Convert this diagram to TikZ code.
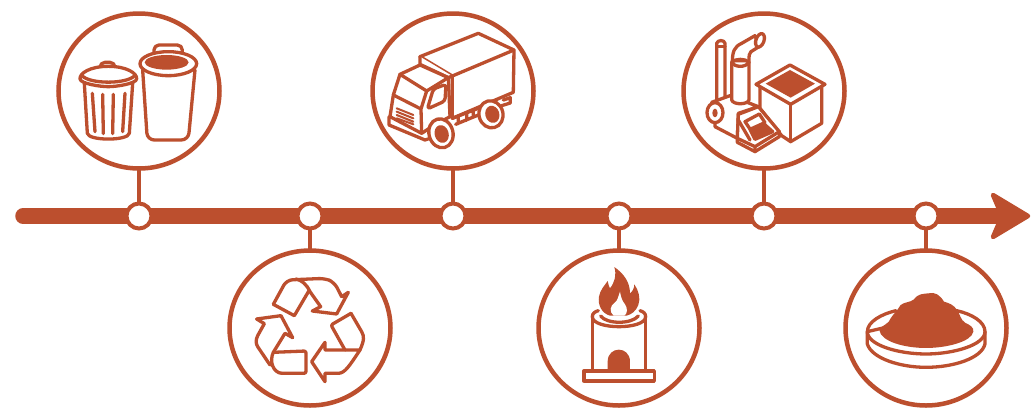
\documentclass[tikz,border=0pt]{standalone}
\usetikzlibrary{shapes.geometric}
\definecolor{rust}{HTML}{BC4F2E}
\tikzset{
  bigc/.style={ellipse,draw=rust,line width=4.5pt,fill=white,minimum width=161pt,minimum height=155pt,inner sep=0pt,outer sep=0pt},
  dotc/.style={circle,draw=rust,line width=4pt,fill=white,minimum size=25pt,inner sep=0pt,outer sep=0pt},
  stem/.style={draw=rust,line width=4pt},
  ink/.style={draw=rust,line width=3.3pt,line join=round,line cap=round},
  solid ink/.style={ink,fill=rust},
  paper/.style={ink,fill=white},
  zoomed/.style 2 args={xshift=#1pt,yshift=-#2pt,x=0.3333pt,y=-0.3333pt}
}
\begin{document}
\begin{tikzpicture}[x=1pt,y=-1pt]
\useasboundingbox (0,0) rectangle (1031,408);
\fill[white] (0,0) rectangle (1031,408);
% main line
\coordinate (start) at (23,216);
\coordinate (neck) at (1002,216);
\draw[rust,line width=15.5pt,line cap=round] (start) -- (neck);
\fill[rust,draw=rust,line width=4.5pt,line join=round] (993,195) -- (1028,216) -- (993,237) -- (1002,216) -- cycle;
% circles
\node[bigc] (c1) at (139,91) {};
\node[bigc] (c2) at (453,91) {};
\node[bigc] (c3) at (764,91) {};
\node[bigc] (c4) at (310,328) {};
\node[bigc] (c5) at (619,328) {};
\node[bigc] (c6) at (926,328) {};
\node[dotc] (d1) at (139,216) {};
\node[dotc] (d2) at (310,216) {};
\node[dotc] (d3) at (453,216) {};
\node[dotc] (d4) at (619,216) {};
\node[dotc] (d5) at (764,216) {};
\node[dotc] (d6) at (926,216) {};
\foreach \a/\b in {c1/d1,c2/d3,c3/d5,c4/d2,c5/d4,c6/d6} \draw[stem] (\a) -- (\b);
% bins
\begin{scope}[zoomed={50}{5}]
\draw[paper,rounded corners=5pt] (150,190) -- (150,172) -- (195,172) -- (195,190);
\draw[paper] (103,235) -- (112,385) .. controls (116,408) and (234,408) .. (238,385) -- (248,235);
\draw[paper] (90,222) .. controls (88,205) and (120,184) .. (175,184) .. controls (230,184) and (262,205) .. (260,222) .. controls (258,236) and (200,245) .. (175,245) .. controls (150,245) and (92,236) .. (90,222) -- cycle;
\draw[ink] (96,212) .. controls (120,238) and (230,238) .. (254,212);
\draw[ink] (127,265) -- (135,380) (158,268) -- (160,386) (190,268) -- (188,386) (225,265) -- (218,380);
\draw[paper,rounded corners=5pt] (312,140) -- (312,120) -- (397,120) -- (397,140);
\draw[paper,rounded corners=7pt] (278,195) -- (292,405) -- (415,405) -- (435,195);
\draw[paper] (355,176) ellipse [x radius=85,y radius=36];
\fill[rust] (350,172) ellipse [x radius=66,y radius=22];
\end{scope}
% truck
\begin{scope}[zoomed={365}{5}]
\draw[paper] (165,155) -- (340,85) -- (447,135) -- (445,262) -- (262,340) -- (262,213) -- cycle;
\draw[ink] (262,213) -- (447,135);
\draw[paper] (165,155) -- (165,178) -- (250,218) -- (262,213);
\draw[paper] (105,208) -- (165,180) -- (250,218) -- (255,335) -- (205,362) -- (170,385) -- (75,335) -- (85,270) -- cycle;
\draw[ink] (105,208) -- (185,258) -- (250,218);
\draw[ink] (85,270) -- (168,312) -- (185,258) (168,312) -- (170,385);
\draw[ink,rounded corners=3pt] (205,252) -- (243,238) -- (240,288) -- (187,312) -- cycle;
\draw[ink,line width=2pt] (95,310) -- (145,330) (95,320) -- (145,340) (95,330) -- (145,350) (95,340) -- (145,358);
\draw[ink] (72,335) -- (72,360) -- (180,405) -- (195,400);
\draw[ink] (262,340) -- (345,308) (272,358) -- (345,328) (280,335) -- (280,356) (305,325) -- (305,346) (325,316) -- (325,336);
\draw[paper] (415,285) -- (436,278) -- (436,294) -- (410,302);
\draw[paper,rotate around={15:(378,328)}] (378,328) ellipse [x radius=36,y radius=41];
\draw[solid ink,rotate around={15:(382,328)}] (382,328) ellipse [x radius=16,y radius=21];
\draw[paper,rotate around={15:(228,385)}] (228,385) ellipse [x radius=36,y radius=44];
\draw[solid ink,rotate around={15:(230,387)}] (230,387) ellipse [x radius=16,y radius=22];
\end{scope}
% chipper
\begin{scope}[zoomed={675}{5}]
\draw[paper] (255,245) -- (255,310) -- (320,392) -- (347,410) -- (440,355) -- (440,245);
\draw[paper] (243,238) -- (345,180) -- (450,238) -- (347,298) -- cycle;
\fill[rust] (272,236) -- (345,195) -- (420,236) -- (347,278) -- cycle;
\draw[ink] (347,298) -- (347,410);
\draw[paper] (125,290) -- (125,115) .. controls (128,104) and (148,104) .. (150,115) -- (150,280);
\draw[ink] (125,125) -- (150,125);
\draw[paper] (120,365) -- (120,330) -- (110,292) -- (165,272) -- (250,305) -- (190,325) -- (187,400) -- cycle;
\draw[paper] (172,172) .. controls (172,140) and (178,125) .. (200,115) -- (240,92) -- (252,125) -- (228,140) .. controls (222,145) and (222,150) .. (222,172) -- cycle;
\draw[paper] (170,172) -- (170,285) .. controls (175,300) and (217,300) .. (222,285) -- (222,172);
\draw[ink] (170,172) .. controls (180,188) and (212,188) .. (222,172);
\draw[ink] (170,172) .. controls (180,160) and (212,160) .. (222,172);
\draw[paper,rotate around={-20:(255,106)}] (255,106) ellipse [x radius=12,y radius=21];
\draw[paper] (120,323) ellipse [x radius=24,y radius=30];
\fill[rust] (120,324) ellipse [x radius=8,y radius=13];
\draw[paper] (190,328) -- (250,305) -- (313,380) -- (313,395) -- (240,440) -- (187,412) -- (187,400) -- cycle;
\draw[ink] (187,400) -- (240,425) -- (313,380) (240,425) -- (240,440) (190,345) -- (225,405);
\draw[ink] (225,372) -- (210,350) -- (253,327) -- (270,353);
\draw[solid ink] (225,373) -- (265,355) -- (293,380) -- (240,403) -- cycle;
\end{scope}
% recycling
\begin{scope}[zoomed={225}{245}]
\draw[ink,rounded corners=6pt] (145,178) -- (185,105) -- (300,100) -- (328,112) -- (350,155);
\draw[ink] (350,155) -- (370,142) -- (335,207) -- (262,198) -- (287,185) -- (255,140) .. controls (245,118) and (230,105) .. (212,102);
\draw[ink] (145,178) -- (208,212) -- (252,137);
\draw[ink] (95,222) -- (168,212) -- (203,278) -- (180,265) -- (145,322);
\draw[ink] (95,222) -- (118,236) -- (98,272) .. controls (92,285) and (92,295) .. (98,305) -- (135,360);
\draw[ink,rounded corners=2pt] (145,322) -- (243,318) -- (243,385) -- (170,385);
\draw[ink] (170,385) .. controls (145,383) and (132,350) .. (145,322);
\draw[ink,rounded corners=2pt] (360,315) -- (318,240) -- (378,205);
\draw[ink] (378,205) -- (410,260) .. controls (418,275) and (418,285) .. (405,315);
\draw[ink] (405,315) .. controls (392,315) and (375,315) .. (300,315) -- (300,292) -- (260,350) -- (300,410) -- (300,385) -- (340,385) .. controls (360,385) and (375,360) .. (405,315) -- cycle;
\end{scope}
% kiln
\begin{scope}[zoomed={535}{245}]
\draw[ink] (147,378) rectangle (358,408);
\draw[ink] (172,215) -- (172,378) (332,215) -- (332,378);
\draw[ink] (172,215) .. controls (172,255) and (332,255) .. (332,215);
\draw[ink] (172,215) .. controls (172,205) and (180,200) .. (190,197) (332,215) .. controls (332,205) and (325,200) .. (315,197);
\draw[ink] (197,213) .. controls (215,238) and (290,238) .. (310,213);
\fill[rust] (218,378) -- (218,350) .. controls (218,302) and (285,302) .. (285,350) -- (285,378) -- cycle;
\fill[rust] (225,212) .. controls (200,205) and (188,180) .. (192,155) .. controls (195,135) and (210,120) .. (218,108) .. controls (220,118) and (222,125) .. (225,130) .. controls (240,110) and (245,90) .. (238,66) .. controls (265,85) and (285,110) .. (285,145) .. controls (292,140) and (298,130) .. (298,118) .. controls (310,135) and (318,160) .. (310,180) .. controls (303,198) and (290,208) .. (275,212) -- cycle;
\fill[white] (236,212) -- (268,212) .. controls (278,205) and (278,190) .. (270,178) .. controls (262,168) and (258,158) .. (255,140) .. controls (250,155) and (246,170) .. (240,172) .. controls (225,182) and (222,200) .. (236,212) -- cycle;
\end{scope}
% compost
\begin{scope}[zoomed={840}{190}]
\draw[ink] (82,425) -- (82,462) .. controls (95,505) and (180,532) .. (258,532) .. controls (340,532) and (425,505) .. (435,462) -- (435,425);
\draw[ink] (82,425) .. controls (82,395) and (125,372) .. (168,362) (350,362) .. controls (395,372) and (435,395) .. (435,425) .. controls (435,465) and (340,492) .. (258,492) .. controls (175,492) and (82,465) .. (82,425) -- cycle;
\fill[rust] (118,420) .. controls (125,405) and (148,402) .. (152,385) .. controls (160,372) and (172,362) .. (182,345) .. controls (195,335) and (210,338) .. (222,328) .. controls (235,310) and (250,312) .. (265,310) .. controls (285,305) and (300,315) .. (312,335) .. controls (330,340) and (340,345) .. (350,358) .. controls (360,372) and (362,390) .. (375,398) .. controls (390,405) and (402,412) .. (400,425) .. controls (395,455) and (320,474) .. (258,474) .. controls (195,474) and (122,455) .. (118,420) -- cycle;
\end{scope}
\end{tikzpicture}
\end{document}
